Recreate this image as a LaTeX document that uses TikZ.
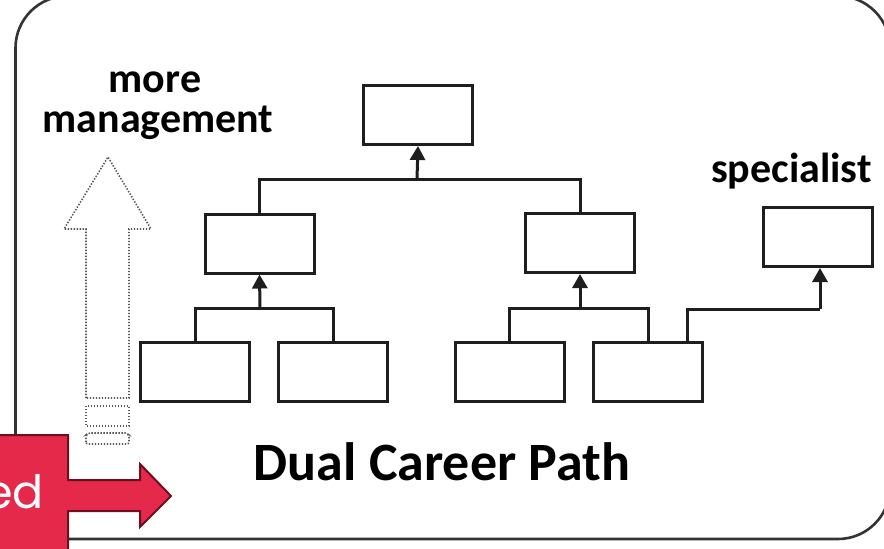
\documentclass[tikz,border=0pt]{standalone}
\usepackage{fontspec}
\setmainfont{Carlito}
\newfontfamily\redfont{Poppins}
\usetikzlibrary{arrows.meta}
\definecolor{framegray}{HTML}{333333}
\definecolor{boxline}{HTML}{1E1E1E}
\definecolor{redfill}{HTML}{E5294A}
\definecolor{redline}{HTML}{6E0E1E}
\begin{document}
\begin{tikzpicture}[x=1pt,y=-1pt,
  orgbox/.style={draw=boxline,line width=3pt,fill=white,rectangle,inner sep=0pt,
     minimum width=109pt,minimum height=59pt},
  link/.style={draw=boxline,line width=3pt},
  uparrow/.style={link,-{Triangle[width=15pt,length=14pt]}},
  lab/.style={font=\bfseries\fontsize{42}{48}\selectfont,anchor=base,inner sep=0pt},
  dotarrow/.style={draw=gray!70!black,line width=1.6pt,dash pattern=on 1.4pt off 1.6pt}
]
\useasboundingbox (0,0) rectangle (884,549);
\fill[white] (0,0) rectangle (884,549);
% frame
\draw[framegray,line width=2.6pt,rounded corners=52pt] (15.5,-4) rectangle (890,539);

% boxes
\node[orgbox] (top) at (418,115) {};
\node[orgbox] (l2a) at (259.5,243.5) {};
\node[orgbox] (l2b) at (580,243) {};
\node[orgbox] (spec) at (817.5,237) {};
\node[orgbox] (b1) at (195,371.5) {};
\node[orgbox] (b2) at (333,371.5) {};
\node[orgbox] (b3) at (509.5,371.5) {};
\node[orgbox] (b4) at (648,371.5) {};

% hubs
\coordinate (h1) at (417,179);
\coordinate (h2) at (260,308);
\coordinate (h3) at (580,308);
\coordinate (s1) at (687,309);
\coordinate (s2) at (820,309);

\draw[link] (l2a.north) |- (h1) -| (l2b.north);
\draw[uparrow] (h1) -- (top.south);
\draw[link] (b1.north) |- (h2) -| (b2.north);
\draw[uparrow] (h2) -- (l2a.south);
\draw[link] (b3.north) |- (h3) -| (b4.north);
\draw[uparrow] (h3) -- (l2b.south);
\draw[link] (s1 |- b4.north) -- (s1) -- (s2);
\draw[uparrow] (s2) -- (s2 |- spec.south);

% labels
\node[lab] (more) at (155,92) {more};
\node[lab] (mgmt) at (158,132) {management};
\node[lab] (speclab) at (791.5,182) {specialist};
\node[lab,font=\bfseries\fontsize{54}{58}\selectfont] (dual) at (442,480) {Dual Career Path};

% dotted arrow
\draw[dotarrow] (86,398) -- (86,229) -- (64,229) -- (108,157) -- (151,229) -- (129,229) -- (129,398) -- cycle;
\draw[dotarrow] (86,406) rectangle (129,426);
\draw[dotarrow,rounded corners=2pt] (86,444) -- (86,435) -- (88,433) -- (127,433) -- (129,435) -- (129,444) -- cycle;

% red callout
\draw[fill=redfill,draw=redline,line width=2pt]
  (-5,435) -- (68,435) -- (68,480) -- (140,480) -- (140,464) -- (171,496)
  -- (140,527) -- (140,511) -- (68,511) -- (68,560) -- (-5,560) -- cycle;
\node[anchor=base east,inner sep=0pt,text=white,font=\redfont\fontsize{46}{50}\selectfont] (ed) at (44,508) {ed};
\end{tikzpicture}
\end{document}
